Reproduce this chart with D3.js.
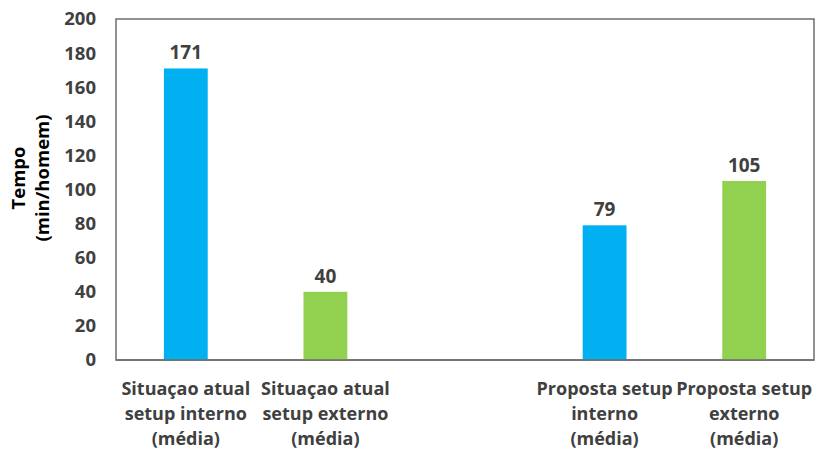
<!DOCTYPE html>
<html><head><meta charset="utf-8">
<script src="https://cdn.jsdelivr.net/npm/d3@7"></script>
<style>body{margin:0;background:#fff}svg{display:block}</style>
</head><body>
<svg id="c" width="815" height="452"></svg>
<script>
const categories = [
  ["Situaçao atual", "setup interno", "(média)"],
  ["Situaçao atual", "setup externo", "(média)"],
  [],
  ["Proposta setup", "interno", "(média)"],
  ["Proposta setup", "externo", "(média)"]
];
const values = [171, 40, null, 79, 105];
const barColors = ["#00B0F0", "#92D050", null, "#00B0F0", "#92D050"];
const yTicks = [0, 20, 40, 60, 80, 100, 120, 140, 160, 180, 200];
const yTitle = ["Tempo", "(min/homem)"];

(function () {
const svg = d3.select("#c");
const pLeft = 116, pRight = 814, pTop = 19, pBottom = 360;
const font = "'Open Sans', 'Liberation Sans', sans-serif";
const textColor = "#404040";

const x = d3.scaleBand().domain(d3.range(categories.length)).range([pLeft, pRight])
  .paddingInner(0.686).paddingOuter(0.343);
const y = d3.scaleLinear().domain([0, 200]).range([pBottom, pTop]);

svg.append("rect").attr("x", pLeft).attr("y", pTop).attr("width", pRight - pLeft).attr("height", pBottom - pTop)
  .attr("fill", "none").attr("stroke", "#6d6d6d").attr("stroke-width", 1.5);

const idx = d3.range(values.length).filter(i => values[i] != null);
svg.selectAll("rect.bar").data(idx).join("rect").attr("class", "bar")
  .attr("x", i => x(i)).attr("width", x.bandwidth())
  .attr("y", i => y(values[i])).attr("height", i => y(0) - y(values[i]))
  .attr("fill", i => barColors[i]);

svg.selectAll("text.val").data(idx).join("text").attr("class", "val")
  .attr("x", i => x(i) + x.bandwidth() / 2).attr("y", i => y(values[i]) - 9)
  .attr("text-anchor", "middle").attr("font-family", font).attr("font-weight", "bold")
  .attr("font-size", 19).attr("fill", textColor).text(i => values[i]);

svg.append("line").attr("x1", pLeft).attr("x2", pRight).attr("y1", pBottom).attr("y2", pBottom)
  .attr("stroke", "#6d6d6d").attr("stroke-width", 1.5);

const yAxis = d3.axisLeft(y).tickValues(yTicks).tickSize(0).tickPadding(0);
const gy = svg.append("g").attr("transform", `translate(${pLeft - 20},0)`).call(yAxis);
gy.select(".domain").remove();
gy.selectAll("text").attr("font-family", font).attr("font-weight", "bold")
  .attr("font-size", 18.5).attr("fill", textColor);

const gx = svg.append("g");
categories.forEach((lines, i) => {
  const t = gx.append("text").attr("text-anchor", "middle")
    .attr("font-family", font).attr("font-weight", "bold").attr("font-size", 18).attr("fill", textColor);
  lines.forEach((ln, k) => {
    t.append("tspan").attr("x", x(i) + x.bandwidth() / 2).attr("y", 395 + k * 25).text(ln);
  });
});

const yt = svg.append("text").attr("transform", "translate(0,178) rotate(-90)")
  .attr("text-anchor", "middle").attr("font-family", font).attr("font-weight", "bold")
  .attr("font-size", 18.5).attr("fill", "#000");
yTitle.forEach((ln, k) => yt.append("tspan").attr("x", 0).attr("y", 25 + k * 24).text(ln));
})();
</script>
</body></html>
